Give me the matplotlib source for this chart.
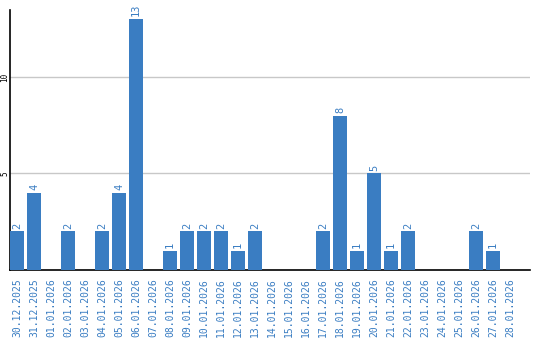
import matplotlib
matplotlib.use('Agg')
import matplotlib.pyplot as plt

dates = ['30.12.2025', '31.12.2025', '01.01.2026', '02.01.2026', '03.01.2026',
         '04.01.2026', '05.01.2026', '06.01.2026', '07.01.2026', '08.01.2026',
         '09.01.2026', '10.01.2026', '11.01.2026', '12.01.2026', '13.01.2026',
         '14.01.2026', '15.01.2026', '16.01.2026', '17.01.2026', '18.01.2026',
         '19.01.2026', '20.01.2026', '21.01.2026', '22.01.2026', '23.01.2026',
         '24.01.2026', '25.01.2026', '26.01.2026', '27.01.2026', '28.01.2026']
counts = [2, 4, 0, 2, 0, 2, 4, 13, 0, 1,
          2, 2, 2, 1, 2, 0, 0, 0, 2, 8,
          1, 5, 1, 2, 0, 0, 0, 2, 1, 0]

BLUE = '#3a7dc2'

fig = plt.figure(figsize=(5.4, 3.4), dpi=100)
ax = fig.add_axes([10 / 540, 70 / 340, 520 / 540, 260 / 340])

xs = list(range(len(dates)))
w = 14 / 17
ax.bar(xs, counts, width=w, color=BLUE, zorder=3)

# value labels above the bars
for x, c in zip(xs, counts):
    if c > 0:
        ax.text(x, c + 0.15, str(c), rotation=90, ha='center', va='bottom',
                color=BLUE, fontsize=7.5, family='DejaVu Sans Mono')

ax.set_xlim(-w / 2, -w / 2 + 520 / 17)
ax.set_ylim(0, 13.47)
ax.set_yticks([5, 10])
ax.set_yticklabels(['5', '10'], rotation=90, fontsize=5.5, va='center',
                   family='DejaVu Sans Mono')
ax.yaxis.grid(True, color='#c8c8c8', linewidth=1, zorder=0)
ax.tick_params(axis='y', length=0, pad=0.5)
ax.set_xticks(xs)
ax.set_xticklabels(dates, rotation=90, fontsize=7, color=BLUE,
                   family='DejaVu Sans Mono')
ax.tick_params(axis='x', length=0, pad=6)

for s in ['top', 'right']:
    ax.spines[s].set_visible(False)
ax.spines['left'].set_linewidth(1.2)
ax.spines['bottom'].set_linewidth(1.2)

fig.savefig('out.png', dpi=100)
